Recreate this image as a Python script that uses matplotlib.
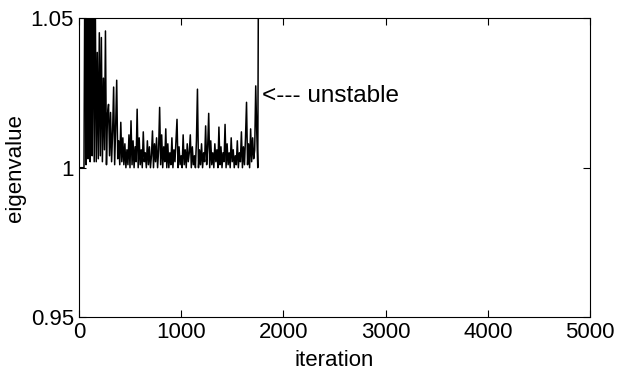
import matplotlib
matplotlib.use('Agg')
import matplotlib.pyplot as plt
import numpy as np

plt.rcParams['font.family'] = ['Liberation Sans', 'DejaVu Sans']

# eigenvalue, one value every 10 iterations (0 .. 1760)
step = 10
eigenvalue = [
    1.000, 1.000, 1.000, 1.000, 1.000, 1.000,
    1.080, 1.001, 1.090, 1.003, 1.075, 1.002, 1.085, 1.004, 1.070, 1.002, 1.060,
    1.002, 1.0386, 1.003, 1.0452, 1.004, 1.0436, 1.002, 1.030, 1.006, 1.0458,
    1.001, 1.018, 1.0212, 1.004, 1.0185, 1.002, 1.012, 1.027, 1.001, 1.014,
    1.0293, 1.003, 1.009, 1.001, 1.0152, 1.002, 1.010, 1.001,
    1.008, 1.000, 1.006, 1.001, 1.011, 1.000, 1.0157, 1.001, 1.009, 1.000,
    1.007, 1.002, 1.0196, 1.000, 1.010, 1.001, 1.006, 1.000, 1.012, 1.002,
    1.005, 1.000, 1.009, 1.001, 1.007, 1.000, 1.004, 1.0123, 1.000, 1.008,
    1.002, 1.010, 1.000, 1.006, 1.0202, 1.001, 1.011, 1.000, 1.007, 1.002,
    1.013, 1.000, 1.008, 1.000, 1.005, 1.001, 1.010, 1.000, 1.006, 1.002,
    1.009, 1.0162, 1.000, 1.007, 1.001, 1.004, 1.000, 1.011, 1.001, 1.006,
    1.000, 1.008, 1.002, 1.005, 1.011, 1.000, 1.007, 1.001, 1.004, 1.000,
    1.009, 1.0263, 1.000, 1.006, 1.001, 1.008, 1.000, 1.005, 1.002, 1.014,
    1.001, 1.007, 1.0182, 1.000, 1.009, 1.001, 1.005, 1.000, 1.008, 1.002,
    1.006, 1.000, 1.0136, 1.001, 1.007, 1.000, 1.005, 1.002, 1.0145, 1.000,
    1.008, 1.001, 1.005, 1.000, 1.010, 1.002, 1.006, 1.000, 1.004, 1.001,
    1.009, 1.000, 1.005, 1.002, 1.012, 1.000, 1.007, 1.001, 1.010, 1.0219,
    1.001, 1.008, 1.000, 1.013, 1.002, 1.010, 1.003, 1.006, 1.0274, 1.012,
    1.000, 1.100,
]
iteration = np.arange(len(eigenvalue)) * step

xticks = [0, 1000, 2000, 3000, 4000, 5000]
yticks = [0.95, 1.0, 1.05]
ytick_labels = ['0.95', '1', '1.05']

fig = plt.figure(figsize=(6.26, 3.76), dpi=100)
ax = fig.add_axes([0.126, 0.157, 0.8165, 0.794])

ax.plot(iteration, eigenvalue, color='black', lw=1.1)

ax.set_xlim(0, 5000)
ax.set_ylim(0.95, 1.05)
ax.set_xticks(xticks)
ax.set_yticks(yticks)
ax.set_yticklabels(ytick_labels)
ax.tick_params(direction='in', top=True, right=True, labelsize=16, length=5)

ax.set_xlabel('iteration', fontsize=16, labelpad=5)
ax.set_ylabel('eigenvalue', fontsize=16, labelpad=3)

ax.text(1790, 1.024, '<--- unstable', fontsize=17.5, va='center', ha='left')

plt.savefig('out.png', dpi=100)
